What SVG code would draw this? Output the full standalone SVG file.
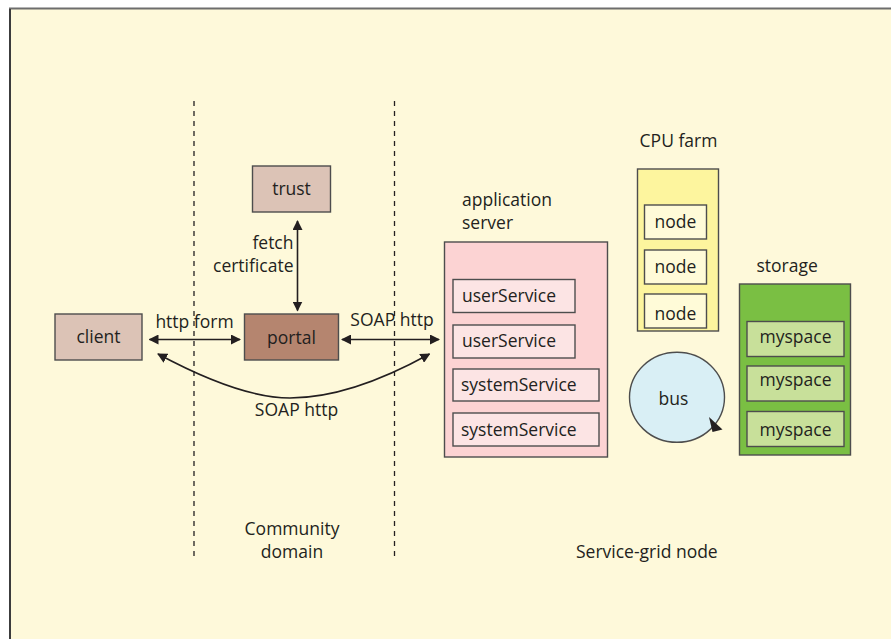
<svg xmlns="http://www.w3.org/2000/svg" width="891" height="639" viewBox="0 0 891 639">
<defs>
<marker id="ah" viewBox="0 0 10 10" refX="9" refY="5" markerWidth="10" markerHeight="10" markerUnits="userSpaceOnUse" orient="auto-start-reverse">
<path d="M0,0 L10,5 L0,10 z" fill="#231f20"/>
</marker>
<style>
text{font-family:"Open Sans","Noto Sans",sans-serif;font-size:17.5px;fill:#231f20}
.box{stroke:#4d4d4d;stroke-width:1.4}
.dash{stroke:#231f20;stroke-width:1.3;stroke-dasharray:5 5;fill:none}
.con{stroke:#231f20;stroke-width:1.6;fill:none}
.mid{text-anchor:middle}
</style>
</defs>
<rect x="0" y="0" width="891" height="639" fill="#ffffff"/>
<rect x="10" y="8.5" width="890" height="640" fill="#fef9da" stroke="#6d6d6d" stroke-width="2"/>
<line x1="10" y1="9" x2="10" y2="639" stroke="#3c3c3c" stroke-width="2"/>
<g id="domains">
<line class="dash" x1="194" y1="101" x2="194" y2="558"/>
<line class="dash" x1="394.5" y1="101" x2="394.5" y2="558"/>
<text class="mid" x="292" y="535">Community</text>
<text class="mid" x="292" y="557.5">domain</text>
<text x="576" y="557.5">Service-grid node</text>
</g>
<g id="trust"><rect class="box" x="252.5" y="166" width="78" height="46" fill="#dcc3b6"/><text class="mid" x="291.5" y="195">trust</text></g>
<g id="client"><rect class="box" x="55" y="314" width="87" height="46" fill="#dcc3b6"/><text class="mid" x="98.5" y="343">client</text></g>
<g id="portal"><rect class="box" x="244.5" y="314" width="94" height="46" fill="#b5856f"/><text class="mid" x="291.5" y="344">portal</text></g>
<g id="appserver">
<text x="462" y="206">application</text>
<text x="462" y="228.5">server</text>
<rect class="box" x="444.5" y="242" width="163" height="215" fill="#fcd3d3"/>
<g id="us1"><rect class="box" x="453" y="279.5" width="122" height="33" fill="#fce4e4"/><text x="462" y="302">userService</text></g>
<g id="us2"><rect class="box" x="453" y="325" width="122" height="33" fill="#fce4e4"/><text x="462" y="347">userService</text></g>
<g id="ss1"><rect class="box" x="453" y="369" width="146" height="32" fill="#fce4e4"/><text x="461" y="391">systemService</text></g>
<g id="ss2"><rect class="box" x="453" y="413" width="146" height="33" fill="#fce4e4"/><text x="461" y="436">systemService</text></g>
</g>
<g id="cpufarm">
<text class="mid" x="678.5" y="146.5">CPU farm</text>
<rect class="box" x="637.5" y="169" width="81" height="162" fill="#fdf59e"/>
<g id="n1"><rect class="box" x="644.5" y="205" width="62" height="34" fill="#fffbd8"/><text class="mid" x="675.5" y="228">node</text></g>
<g id="n2"><rect class="box" x="644.5" y="250" width="62" height="34" fill="#fffbd8"/><text class="mid" x="675.5" y="272.5">node</text></g>
<g id="n3"><rect class="box" x="644.5" y="294" width="62" height="34" fill="#fffbd8"/><text class="mid" x="675.5" y="319.5">node</text></g>
</g>
<g id="storage">
<text x="756.5" y="271.5">storage</text>
<rect class="box" x="739.5" y="284" width="111" height="171" fill="#7abf43"/>
<g id="m1"><rect class="box" x="747" y="321.5" width="97" height="35" fill="#c8e09a"/><text class="mid" x="795.5" y="343">myspace</text></g>
<g id="m2"><rect class="box" x="747" y="366" width="97" height="35" fill="#c8e09a"/><text class="mid" x="795.5" y="386">myspace</text></g>
<g id="m3"><rect class="box" x="747" y="411.5" width="97" height="35" fill="#c8e09a"/><text class="mid" x="795.5" y="436">myspace</text></g>
</g>
<g id="bus">
<ellipse class="box" cx="677" cy="397.3" rx="47.5" ry="45" fill="#d9eff5" stroke="#231f20"/>
<polygon points="709,417 722.5,429.5 712.5,432" fill="#231f20"/>
<text class="mid" x="673.5" y="405">bus</text>
</g>
<g id="connectors">
<line class="con" x1="297.5" y1="221" x2="297.5" y2="310.5" marker-start="url(#ah)" marker-end="url(#ah)"/>
<line class="con" x1="149.5" y1="339.5" x2="240" y2="339.5" marker-start="url(#ah)" marker-end="url(#ah)"/>
<line class="con" x1="342" y1="339.5" x2="439" y2="339.5" marker-start="url(#ah)" marker-end="url(#ah)"/>
<path class="con" d="M158,354 Q240,398 290,398 Q350,398 429.5,354" marker-start="url(#ah)" marker-end="url(#ah)" stroke-width="1.3"/>
<text x="293.5" y="249" text-anchor="end">fetch</text>
<text x="293.5" y="271.5" text-anchor="end">certificate</text>
<text class="mid" x="194.5" y="328">http form</text>
<text class="mid" x="392" y="326">SOAP http</text>
<text class="mid" x="296.5" y="415.5">SOAP http</text>
</g>
</svg>
